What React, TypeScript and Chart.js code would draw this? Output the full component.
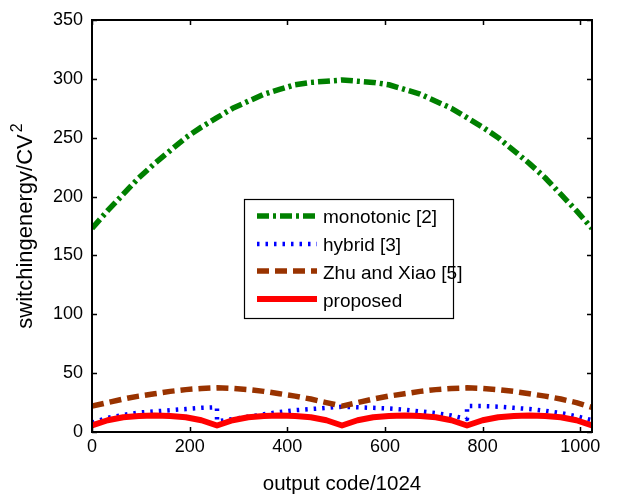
import React, { useEffect, useRef } from 'react';
import { Chart, registerables } from 'chart.js';

Chart.register(...registerables);

const codes = [0, 32, 64, 96, 128, 160, 192, 224, 256, 288, 320, 352, 384, 416, 448, 480, 512, 544, 576, 608, 640, 672, 704, 736, 768, 800, 832, 864, 896, 928, 960, 992, 1024];

const monotonic = [173, 188, 202, 216, 228, 239, 250, 259, 267, 275, 281, 287, 291, 295, 297, 298, 299, 298, 297, 295, 291, 287, 281, 275, 267, 259, 250, 239, 228, 216, 202, 188, 173];

const zhuXiao = [22, 25, 28, 30.5, 32.5, 34.5, 36, 37, 37.5, 37, 36, 34.5, 32.5, 30.5, 28, 25, 22, 25, 28, 30.5, 32.5, 34.5, 36, 37, 37.5, 37, 36, 34.5, 32.5, 30.5, 28, 25, 21];

const proposed = [5.5, 10, 12.5, 13.5, 14, 13.5, 12.5, 10, 5.5, 10, 12.5, 13.5, 14, 13.5, 12.5, 10, 5.5, 10, 12.5, 13.5, 14, 13.5, 12.5, 10, 5.5, 10, 12.5, 13.5, 14, 13.5, 12.5, 10, 5.5];

const hybridCodes = [0, 32, 64, 96, 128, 160, 192, 224, 256, 256, 288, 320, 352, 384, 416, 448, 480, 512, 544, 576, 608, 640, 672, 704, 736, 768, 768, 800, 832, 864, 896, 928, 960, 992, 1024];
const hybridValues = [8, 12, 14.5, 16.5, 17.5, 18.5, 19.5, 20.5, 21, 9, 11, 13, 15, 17, 18.5, 19.5, 20.5, 21.5, 21, 20.5, 20, 19, 17.5, 16, 14, 11, 22, 22, 21.5, 20.5, 19.5, 18, 16, 13.5, 10];

const legendLabels = ['monotonic [2]', 'hybrid [3]', 'Zhu and Xiao [5]', 'proposed'];
const xTickValues = [0, 200, 400, 600, 800, 1000];
const yTickValues = [0, 50, 100, 150, 200, 250, 300, 350];
const xTitle = 'output code/1024';
const yTitleMain = 'switchingenergy/CV';
const yTitleSup = '2';

const FONT = "'Liberation Sans', Arial, Helvetica, sans-serif";

export default function App() {
  const ref = useRef<HTMLCanvasElement>(null);

  useEffect(() => {
    const canvas = ref.current;
    if (!canvas) return;

    const toXY = (xs: number[], ys: number[]) => xs.map((x, i) => ({ x, y: ys[i] }));

    const datasets: any[] = [
      {
        label: legendLabels[0],
        data: toXY(codes, monotonic),
        borderColor: '#008000',
        borderWidth: 5.5,
        borderDash: [12, 4, 3, 4],
        order: 3,
      },
      {
        label: legendLabels[1],
        data: toXY(hybridCodes, hybridValues),
        borderColor: '#0000ff',
        borderWidth: 4.5,
        borderDash: [2.5, 6],
        order: 2,
      },
      {
        label: legendLabels[2],
        data: toXY(codes, zhuXiao),
        borderColor: '#993300',
        borderWidth: 5.5,
        borderDash: [12, 6],
        order: 1,
      },
      {
        label: legendLabels[3],
        data: toXY(codes, proposed),
        borderColor: '#ff0000',
        borderWidth: 6,
        borderDash: [],
        order: 0,
      },
    ].map((d) => ({
      ...d,
      pointRadius: 0,
      tension: 0,
      fill: false,
      borderCapStyle: 'butt',
      borderJoinStyle: 'round',
    }));

    const framePlugin = {
      id: 'frame',
      afterDraw(chart: any) {
        const { ctx, chartArea } = chart;
        const { left, right, top, bottom } = chartArea;
        const xs = chart.scales.x;
        const ys = chart.scales.y;
        ctx.save();
        ctx.strokeStyle = '#000';
        ctx.lineWidth = 1.5;
        ctx.setLineDash([]);
        ctx.beginPath();
        xTickValues.forEach((v) => {
          const px = Math.round(xs.getPixelForValue(v)) + 0.5;
          ctx.moveTo(px, bottom);
          ctx.lineTo(px, bottom - 5);
          ctx.moveTo(px, top);
          ctx.lineTo(px, top + 5);
        });
        yTickValues.forEach((v) => {
          const py = Math.round(ys.getPixelForValue(v)) + 0.5;
          ctx.moveTo(left, py);
          ctx.lineTo(left + 5, py);
          ctx.moveTo(right, py);
          ctx.lineTo(right - 5, py);
        });
        ctx.stroke();
        ctx.lineWidth = 2;
        ctx.strokeRect(left, top, right - left, bottom - top);

        // y-axis title with superscript
        ctx.save();
        const midY = (top + bottom) / 2;
        ctx.translate(32, midY);
        ctx.rotate(-Math.PI / 2);
        ctx.fillStyle = '#000';
        ctx.textBaseline = 'alphabetic';
        ctx.font = `22px ${FONT}`;
        const wMain = ctx.measureText(yTitleMain).width;
        ctx.font = `16px ${FONT}`;
        const wSup = ctx.measureText(yTitleSup).width;
        const gap = 2;
        const total = wMain + gap + wSup;
        ctx.textAlign = 'left';
        ctx.font = `22px ${FONT}`;
        ctx.fillText(yTitleMain, -total / 2, 0);
        ctx.font = `16px ${FONT}`;
        ctx.fillText(yTitleSup, -total / 2 + wMain + gap, -10);
        ctx.restore();

        // legend box
        const bx = 244, by = 199, bw = 209, bh = 119;
        ctx.fillStyle = '#fff';
        ctx.fillRect(bx, by, bw, bh);
        ctx.lineWidth = 1.2;
        ctx.strokeStyle = '#000';
        ctx.strokeRect(bx + 0.5, by + 0.5, bw, bh);
        const lineRows = [216, 244, 271, 299];
        const textRows = [218, 246, 274, 302];
        chart.data.datasets.forEach((d: any, i: number) => {
          const y = lineRows[i];
          ctx.save();
          ctx.strokeStyle = d.borderColor;
          ctx.lineWidth = d.borderWidth;
          ctx.lineCap = 'butt';
          ctx.setLineDash(d.borderDash || []);
          ctx.beginPath();
          ctx.moveTo(257, y);
          ctx.lineTo(317, y);
          ctx.stroke();
          ctx.restore();
          ctx.fillStyle = '#000';
          ctx.font = `19px ${FONT}`;
          ctx.textBaseline = 'middle';
          ctx.textAlign = 'left';
          ctx.fillText(d.label, 323, textRows[i]);
        });
        ctx.restore();
      },
    };

    const chart = new Chart(canvas, {
      type: 'line',
      data: { datasets },
      plugins: [framePlugin],
      options: {
        animation: false,
        responsive: false,
        devicePixelRatio: 1,
        layout: { padding: { left: 0, top: 20, right: 34, bottom: 0 } },
        plugins: { legend: { display: false }, tooltip: { enabled: false } },
        scales: {
          x: {
            type: 'linear',
            min: 0,
            max: 1024,
            grid: { display: false, drawTicks: false },
            border: { display: false },
            afterBuildTicks: (scale: any) => {
              scale.ticks = xTickValues.map((v) => ({ value: v }));
            },
            afterFit: (scale: any) => {
              scale.height = 63;
            },
            ticks: {
              color: '#000',
              font: { family: FONT, size: 18 },
              padding: 4,
              maxRotation: 0,
              autoSkip: false,
              callback: (v: any) => String(v),
            },
            title: {
              display: true,
              text: xTitle,
              color: '#000',
              font: { family: FONT, size: 20.5, lineHeight: 1.0 },
              padding: { top: 0, bottom: 0 },
            },
          },
          y: {
            type: 'linear',
            min: 0,
            max: 350,
            grid: { display: false, drawTicks: false },
            border: { display: false },
            afterBuildTicks: (scale: any) => {
              scale.ticks = yTickValues.map((v) => ({ value: v }));
            },
            afterFit: (scale: any) => {
              scale.width = 92;
            },
            ticks: {
              color: '#000',
              font: { family: FONT, size: 18 },
              padding: 9,
              autoSkip: false,
              callback: (v: any) => String(v),
            },
            title: { display: false },
          },
        },
      },
    });

    return () => chart.destroy();
  }, []);

  return (
    <div style={{ position: 'fixed', left: 0, top: 0, width: 626, height: 495, background: '#fff' }}>
      <canvas ref={ref} width={626} height={495} style={{ display: 'block' }} />
    </div>
  );
}
